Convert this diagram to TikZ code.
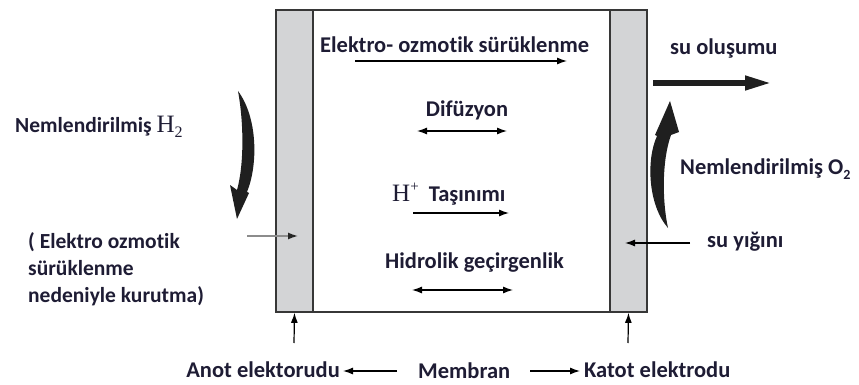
\documentclass[tikz,border=0pt]{standalone}
\usepackage{fontspec}
\setmainfont{Carlito}[Ligatures=CommonOff]
\newfontfamily\serifH{Liberation Serif}
\usetikzlibrary{arrows.meta}
\definecolor{txt}{RGB}{30,28,52}
\definecolor{stripgray}{RGB}{211,212,214}
\definecolor{edge}{RGB}{55,55,55}
\newcommand{\serifsub}[1]{{\serifH\mdseries\fontsize{25}{27}\selectfont H\raisebox{-0.22em}{\fontsize{16}{16}\selectfont #1}}}
\newcommand{\serifsup}[1]{{\serifH\mdseries\fontsize{25}{27}\selectfont H\raisebox{0.4em}{\fontsize{15}{15}\selectfont #1}}}
\begin{document}
\begin{tikzpicture}[x=1pt,y=-1pt,
  lbl/.style={font=\fontsize{22.5}{27}\selectfont\bfseries, text=txt, inner sep=0pt},
  lbls/.style={lbl, font=\fontsize{21.5}{27}\selectfont\bfseries},
  arr/.style={line width=1.2pt, -{Latex[length=10pt,width=7pt]}},
  darr/.style={line width=1.2pt, {Latex[length=10pt,width=7pt]}-{Latex[length=10pt,width=7pt]}},
  strip/.style={fill=stripgray, draw=edge, line width=1.6pt, inner sep=0pt, minimum width=37pt, minimum height=302pt},
  brush/.style={fill=black!88, draw=none}]
\useasboundingbox (0,0) rectangle (859,385);

% membrane assembly
\draw[edge, line width=1.6pt] (276,10) rectangle (647,312);
\node[strip] (anode) at (294.5,161) {};
\node[strip] (cathode) at (628.5,161) {};

% inner labels and arrows
\node[lbl, anchor=west] (eod) at (320,45) {Elektro- ozmotik sürüklenme};
\coordinate (eod1) at (355,61); \coordinate (eod2) at (567,61);
\draw[arr] (eod1) -- (eod2);

\node[lbl] (dif) at (467,110) {Difüzyon};
\coordinate (dif1) at (417,131); \coordinate (dif2) at (507,131);
\draw[darr] (dif1) -- (dif2);

\node[lbl, anchor=west] (hp) at (392,194) {\serifsup{+}\ \ Taşınımı};
\coordinate (hp1) at (413,213); \coordinate (hp2) at (509,213);
\draw[arr] (hp1) -- (hp2);

\node[lbl, anchor=west] (hyd) at (385,263) {Hidrolik geçirgenlik};
\coordinate (hyd1) at (412,290); \coordinate (hyd2) at (513,290);
\draw[darr] (hyd1) -- (hyd2);

% left side
\node[lbls, anchor=west] (h2) at (15,127) {Nemlendirilmiş \serifsub{2}};
\fill[brush] (238,91) .. controls (258,118) and (258,165) .. (247,192)
  -- (249,193) -- (237,219) -- (230,185) -- (237,190)
  .. controls (244,165) and (244,124) .. (238,91) -- cycle;
\node[lbls, anchor=west, align=left] (dry) at (28,269) {( Elektro ozmotik\\sürüklenme\\nedeniyle kurutma)};
\coordinate (lin) at (247,236); \coordinate (lt) at (298,236);
\draw[line width=1.4pt, black!45, -{Latex[length=10pt,width=7pt,color=black!85]}] (lin) -- (lt);

% right side
\node[lbl, anchor=west] (wf) at (670,48) {su oluşumu};
\coordinate (wf1) at (653,83); \coordinate (wf2) at (773,83);
\draw[line width=6.5pt, black!88, -{Triangle[length=28pt,width=13pt]}] (wf1) -- (wf2);
\fill[brush] (668,228) .. controls (648,205) and (646,160) .. (657,136)
  -- (655,135) -- (670,101) -- (679,132) -- (671,135)
  .. controls (662,160) and (662,200) .. (668,228) -- cycle;
\node[lbl, anchor=west] (o2) at (680,169) {Nemlendirilmiş O\raisebox{-0.22em}{\fontsize{14}{14}\selectfont 2}};
\node[lbl, anchor=west] (acc) at (707,242) {su yığını};
\coordinate (acc1) at (690,243); \coordinate (acc2) at (625,243);
\draw[arr] (acc1) -- (acc2);

% bottom labels
\node[lbl, anchor=east] (anot) at (340,370) {Anot elektorudu};
\node[lbl, anchor=west] (mem) at (418,371) {Membran};
\node[lbl, anchor=west] (katot) at (584,370) {Katot elektrodu};
\draw[arr, shorten <=21pt, shorten >=3pt] (mem.west) -- (mem.west -| anot.east);
\draw[arr, shorten <=20pt, shorten >=4pt] (mem.east) -- (mem.east -| katot.west);
\coordinate (ab) at (294,343); \coordinate (cb) at (628,343);
\draw[arr] (ab) -- (anode.south);
\draw[arr] (cb) -- (cathode.south);
\end{tikzpicture}
\end{document}
